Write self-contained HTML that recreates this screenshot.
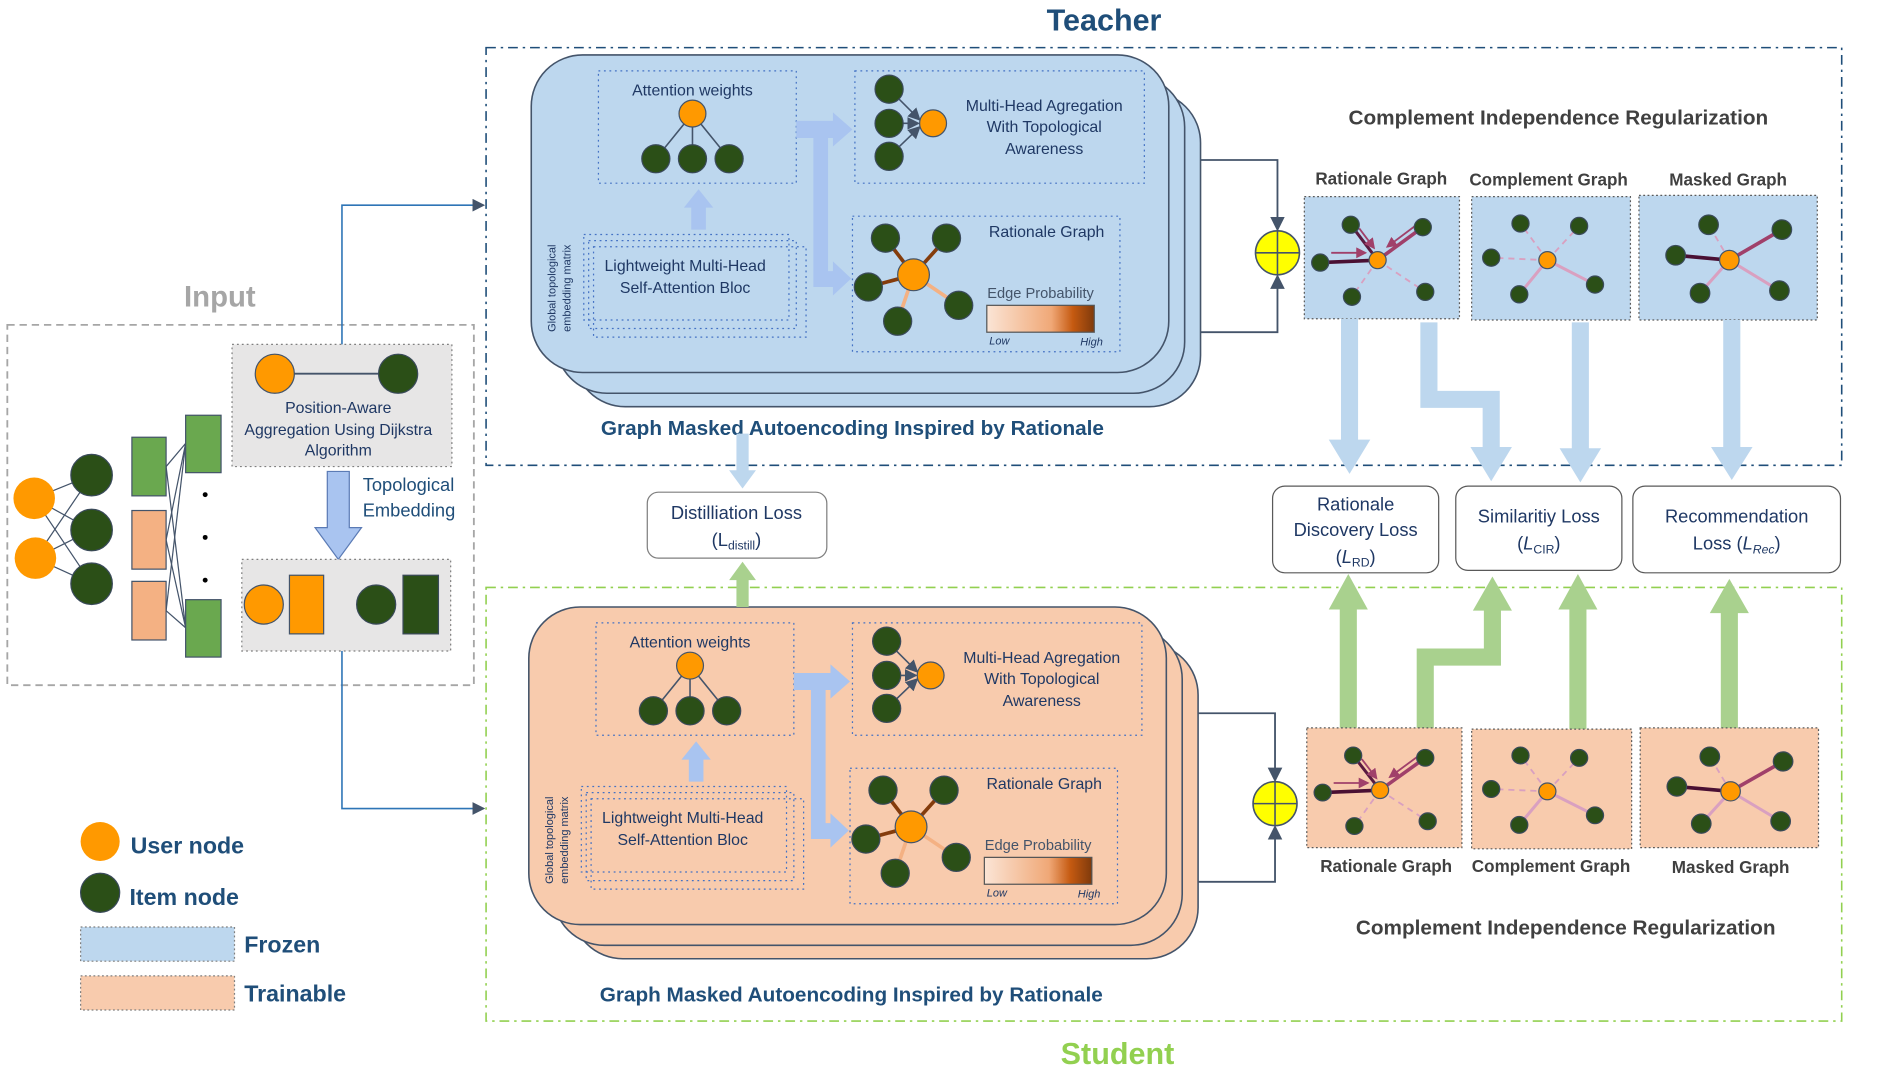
<!DOCTYPE html>
<html><head><meta charset="utf-8"><style>
html,body{margin:0;padding:0;background:#fff;width:1893px;height:1065px;overflow:hidden}
svg{display:block}
text{font-family:"Liberation Sans",sans-serif}
</style></head><body>
<svg width="1893" height="1065" viewBox="0 0 1550 872" preserveAspectRatio="none" xmlns="http://www.w3.org/2000/svg">
<defs>
<linearGradient id="ep" x1="0" x2="1"><stop offset="0" stop-color="#fbe5d6"/><stop offset="0.6" stop-color="#f0a877"/><stop offset="0.8" stop-color="#c55a11"/><stop offset="1" stop-color="#7f3a0c"/></linearGradient>
<marker id="ah" markerWidth="8" markerHeight="8" refX="7" refY="4" orient="auto"><path d="M0,0L8,4L0,8z" fill="#44546a"/></marker>
<marker id="pa" markerWidth="6" markerHeight="6" refX="5" refY="3" orient="auto"><path d="M0,0L6,3L0,6z" fill="#a0406a"/></marker>
<g id="inner" font-size="13" fill="#1f3864">
 <rect x="490" y="58" width="162" height="92" fill="none" stroke="#4472c4" stroke-dasharray="1.5 3"/>
 <text x="567" y="78" text-anchor="middle" fill="#1f3864">Attention weights</text>
 <g stroke="#44546a" stroke-width="1.3"><line x1="567" y1="93" x2="537" y2="130"/><line x1="567" y1="93" x2="567" y2="130"/><line x1="567" y1="93" x2="597" y2="130"/></g>
 <circle cx="567" cy="93" r="11" fill="#ff9900" stroke="#44546a"/>
 <g fill="#2b4f17" stroke="#3a4a5a"><circle cx="537" cy="130" r="11.5"/><circle cx="567" cy="130" r="11.5"/><circle cx="597" cy="130" r="11.5"/></g>
 <path d="M566,188V170H560L572,155L584,170H578V188Z" fill="#a9c4f0"/>
 <rect x="486" y="202" width="174" height="74" fill="none" stroke="#4472c4" stroke-dasharray="1.5 3"/>
 <rect x="482" y="197" width="170" height="72" fill="none" stroke="#4472c4" stroke-dasharray="1.5 3"/>
 <rect x="478" y="192" width="168" height="70" fill="#bdd7ee" fill-opacity="0" stroke="#4472c4" stroke-dasharray="1.5 3"/>
 <text x="561" y="222" text-anchor="middle">Lightweight Multi-Head</text>
 <text x="561" y="240" text-anchor="middle">Self-Attention Bloc</text>
 <g font-size="9" fill="#1f3864"><text transform="translate(455,236) rotate(-90)" text-anchor="middle">Global topological</text><text transform="translate(467,236) rotate(-90)" text-anchor="middle">embedding matrix</text></g>
 <path d="M652,99H682V92L698,106L682,120V113H678V222H682V214L697,228L682,242V235H666V113H652Z" fill="#a9c4f0"/>
 <rect x="700" y="58" width="237" height="92" fill="none" stroke="#4472c4" stroke-dasharray="1.5 3"/>
 <g stroke="#44546a" stroke-width="1.3"><line x1="728" y1="73" x2="753" y2="98" marker-end="url(#ah)"/><line x1="728" y1="101" x2="752" y2="101" marker-end="url(#ah)"/><line x1="728" y1="128" x2="753" y2="104" marker-end="url(#ah)"/></g>
 <g fill="#2b4f17" stroke="#3a4a5a"><circle cx="728" cy="73" r="11.5"/><circle cx="728" cy="101" r="11.5"/><circle cx="728" cy="128" r="11.5"/></g>
 <circle cx="764" cy="101" r="11" fill="#ff9900" stroke="#44546a"/>
 <text x="855" y="91" text-anchor="middle">Multi-Head Agregation</text>
 <text x="855" y="108" text-anchor="middle">With Topological</text>
 <text x="855" y="126" text-anchor="middle">Awareness</text>
 <rect x="698" y="177" width="219" height="111" fill="none" stroke="#4472c4" stroke-dasharray="1.5 3"/>
 <g stroke-width="3"><line x1="748" y1="225" x2="725" y2="195" stroke="#843c0c"/><line x1="748" y1="225" x2="775" y2="195" stroke="#843c0c"/><line x1="748" y1="225" x2="711" y2="235" stroke="#843c0c"/><line x1="748" y1="225" x2="785" y2="250" stroke="#f4b183"/><line x1="748" y1="225" x2="735" y2="263" stroke="#f4b183"/></g>
 <g fill="#2b4f17" stroke="#3a4a5a"><circle cx="725" cy="195" r="11.5"/><circle cx="775" cy="195" r="11.5"/><circle cx="711" cy="235" r="11.5"/><circle cx="785" cy="250" r="11.5"/><circle cx="735" cy="263" r="11.5"/></g>
 <circle cx="748" cy="225" r="13" fill="#ff9900" stroke="#44546a"/>
 <text x="857" y="194" text-anchor="middle">Rationale Graph</text>
 <text x="852" y="244" text-anchor="middle" font-size="12" fill="#44546a">Edge Probability</text>
 <rect x="808" y="250" width="88" height="22" fill="url(#ep)" stroke="#555"/>
 <text x="810" y="282" font-size="9" font-style="italic">Low</text>
 <text x="903" y="283" font-size="9" font-style="italic" text-anchor="end">High</text>
</g>
<g id="gR">
 <line x1="60" y1="52" x2="39" y2="82" stroke="#d9a0c0" stroke-width="1.5" stroke-dasharray="5 4"/>
 <line x1="60" y1="52" x2="99" y2="78" stroke="#d9a0c0" stroke-width="1.5" stroke-dasharray="5 4"/>
 <line x1="60" y1="52" x2="13" y2="54" stroke="#4a1033" stroke-width="3"/>
 <line x1="60" y1="52" x2="38" y2="23" stroke="#5a1a40" stroke-width="2.5"/>
 <line x1="60" y1="52" x2="97" y2="25" stroke="#a0406a" stroke-width="3"/>
 <line x1="22" y1="46" x2="50" y2="46" stroke="#a0406a" stroke-width="1.5" marker-end="url(#pa)"/>
 <line x1="45" y1="26" x2="57" y2="42" stroke="#a0406a" stroke-width="1.5" marker-end="url(#pa)"/>
 <line x1="92" y1="23" x2="68" y2="41" stroke="#a0406a" stroke-width="1.5" marker-end="url(#pa)"/>
 <g fill="#2b4f17" stroke="#3a4a5a"><circle cx="38" cy="23" r="7"/><circle cx="97" cy="25" r="7"/><circle cx="13" cy="54" r="7"/><circle cx="39" cy="82" r="7"/><circle cx="99" cy="78" r="7"/></g>
 <circle cx="60" cy="52" r="7" fill="#ff9900" stroke="#44546a"/>
</g>
<g id="gC">
 <g stroke="#d9a0c0" stroke-width="1.5" stroke-dasharray="5 4"><line x1="62" y1="52" x2="40" y2="22"/><line x1="62" y1="52" x2="88" y2="24"/><line x1="62" y1="52" x2="16" y2="50"/></g>
 <g stroke="#d9a0c0" stroke-width="2.5"><line x1="62" y1="52" x2="39" y2="80"/><line x1="62" y1="52" x2="101" y2="72"/></g>
 <g fill="#2b4f17" stroke="#3a4a5a"><circle cx="40" cy="22" r="7"/><circle cx="88" cy="24" r="7"/><circle cx="16" cy="50" r="7"/><circle cx="39" cy="80" r="7"/><circle cx="101" cy="72" r="7"/></g>
 <circle cx="62" cy="52" r="7" fill="#ff9900" stroke="#44546a"/>
</g>
<g id="gM">
 <line x1="74" y1="53" x2="57" y2="24" stroke="#d9a0c0" stroke-width="1.5" stroke-dasharray="5 4"/>
 <line x1="74" y1="53" x2="30" y2="49" stroke="#4a1033" stroke-width="3"/>
 <line x1="74" y1="53" x2="117" y2="28" stroke="#a0406a" stroke-width="3"/>
 <g stroke="#d9a0c0" stroke-width="2.5"><line x1="74" y1="53" x2="50" y2="80"/><line x1="74" y1="53" x2="115" y2="78"/></g>
 <g fill="#2b4f17" stroke="#3a4a5a"><circle cx="57" cy="24" r="8"/><circle cx="117" cy="28" r="8"/><circle cx="30" cy="49" r="8"/><circle cx="50" cy="80" r="8"/><circle cx="115" cy="78" r="8"/></g>
 <circle cx="74" cy="53" r="8" fill="#ff9900" stroke="#44546a"/>
</g>
</defs>

<!-- Titles -->
<text x="904" y="25" text-anchor="middle" font-size="25" font-weight="bold" fill="#1f4e79">Teacher</text>
<text x="915" y="871" text-anchor="middle" font-size="25" font-weight="bold" fill="#92d050">Student</text>
<rect x="398" y="39" width="1110" height="342" fill="none" stroke="#1f4e79" stroke-width="1.3" stroke-dasharray="8 4 2 4"/>
<rect x="398" y="481" width="1110" height="355" fill="none" stroke="#92d050" stroke-width="1.3" stroke-dasharray="8 4 2 4"/>

<!-- Input -->
<text x="180" y="251" text-anchor="middle" font-size="24" font-weight="bold" fill="#a6a6a6">Input</text>
<rect x="6" y="266" width="382" height="295" fill="none" stroke="#a6a6a6" stroke-width="1.5" stroke-dasharray="6 4"/>
<path d="M280,282V168H396" fill="none" stroke="#2e75b6" stroke-width="1.3" marker-end="url(#ah)"/>
<path d="M280,533V662H396" fill="none" stroke="#2e75b6" stroke-width="1.3" marker-end="url(#ah)"/>
<rect x="190" y="282" width="180" height="100" fill="#e7e6e6" stroke="#7f7f7f" stroke-dasharray="1.5 2.5"/>
<line x1="225" y1="306" x2="326" y2="306" stroke="#44546a" stroke-width="1.5"/>
<circle cx="225" cy="306" r="16" fill="#ff9900" stroke="#44546a"/>
<circle cx="326" cy="306" r="16" fill="#2b4f17" stroke="#3a4a5a"/>
<g font-size="13" fill="#1f3864" text-anchor="middle"><text x="277" y="338">Position-Aware</text><text x="277" y="356">Aggregation Using Dijkstra</text><text x="277" y="373">Algorithm</text></g>
<path d="M268,386H286V432H296L277,458L258,432H268Z" fill="#a9c4f0" stroke="#5b7bb5"/>
<g font-size="15" fill="#1f4e79"><text x="297" y="402">Topological</text><text x="297" y="423">Embedding</text></g>
<rect x="198" y="458" width="171" height="75" fill="#e7e6e6" stroke="#7f7f7f" stroke-dasharray="1.5 2.5"/>
<circle cx="216" cy="495" r="16" fill="#ff9900" stroke="#44546a"/>
<rect x="237" y="471" width="28" height="48" fill="#ff9900" stroke="#44546a"/>
<circle cx="308" cy="495" r="16" fill="#2b4f17" stroke="#3a4a5a"/>
<rect x="330" y="471" width="29" height="48" fill="#2b4f17" stroke="#3a4a5a"/>
<g stroke="#44546a" stroke-width="1"><line x1="28" y1="408" x2="75" y2="389"/><line x1="28" y1="408" x2="75" y2="434"/><line x1="28" y1="408" x2="75" y2="478"/><line x1="29" y1="457" x2="75" y2="389"/><line x1="29" y1="457" x2="75" y2="434"/><line x1="29" y1="457" x2="75" y2="478"/>
<line x1="136" y1="382" x2="152" y2="363"/><line x1="136" y1="382" x2="152" y2="514"/><line x1="136" y1="442" x2="152" y2="363"/><line x1="136" y1="442" x2="152" y2="514"/><line x1="136" y1="500" x2="152" y2="363"/><line x1="136" y1="500" x2="152" y2="514"/></g>
<g fill="#ff9900"><circle cx="28" cy="408" r="17"/><circle cx="29" cy="457" r="17"/></g>
<g fill="#2b4f17" stroke="#3a4a5a"><circle cx="75" cy="389" r="17"/><circle cx="75" cy="434" r="17"/><circle cx="75" cy="478" r="17"/></g>
<g stroke="#44546a"><rect x="108" y="358" width="28" height="48" fill="#6aa84f"/><rect x="108" y="418" width="28" height="48" fill="#f4b183"/><rect x="108" y="476" width="28" height="48" fill="#f4b183"/><rect x="152" y="340" width="29" height="47" fill="#6aa84f"/><rect x="152" y="491" width="29" height="47" fill="#6aa84f"/></g>
<g fill="#000"><circle cx="168" cy="405" r="2"/><circle cx="168" cy="440" r="2"/><circle cx="168" cy="475" r="2"/></g>

<!-- Legend -->
<circle cx="82" cy="689" r="16" fill="#ff9900"/>
<circle cx="82" cy="731" r="16" fill="#2b4f17" stroke="#3a4a5a"/>
<rect x="66" y="759" width="126" height="28" fill="#bdd7ee" stroke="#7f7f7f" stroke-dasharray="1.5 2"/>
<rect x="66" y="799" width="126" height="28" fill="#f8cbad" stroke="#7f7f7f" stroke-dasharray="1.5 2"/>
<g font-size="19" font-weight="bold" fill="#1f4e79"><text x="107" y="699">User node</text><text x="106" y="741">Item node</text><text x="200" y="780">Frozen</text><text x="200" y="820">Trainable</text></g>

<!-- Teacher stack -->
<g fill="#bdd7ee" stroke="#44546a" stroke-width="1.3">
<rect x="470" y="75" width="513" height="258" rx="42"/>
<rect x="455" y="62" width="515" height="260" rx="42"/>
<rect x="435" y="45" width="522" height="260" rx="42"/>
</g>
<use href="#inner"/>
<text x="698" y="356" text-anchor="middle" font-size="17" font-weight="bold" fill="#1f4e79">Graph Masked Autoencoding Inspired by Rationale</text>

<!-- Student stack -->
<g fill="#f8cbad" stroke="#44546a" stroke-width="1.3">
<rect x="468" y="527" width="513" height="258" rx="42"/>
<rect x="453" y="514" width="515" height="260" rx="42"/>
<rect x="433" y="497" width="522" height="260" rx="42"/>
</g>
<use href="#inner" transform="translate(-2,452)"/>
<text x="697" y="820" text-anchor="middle" font-size="17" font-weight="bold" fill="#1f4e79">Graph Masked Autoencoding Inspired by Rationale</text>

<!-- Distillation -->
<path d="M603,355H613V385H619L608,400L597,385H603Z" fill="#bdd7ee"/>
<path d="M603,497H613V475H619L608,460L597,475H603Z" fill="#a9d18e"/>
<rect x="530" y="403" width="147" height="54" rx="9" fill="#fff" stroke="#7f7f7f"/>
<text x="603" y="425" text-anchor="middle" font-size="15" fill="#1f3864">Distilliation Loss</text>
<text x="603" y="447" text-anchor="middle" font-size="15" fill="#1f3864">(L<tspan font-size="10" dy="3">distill</tspan><tspan dy="-3">)</tspan></text>

<!-- Teacher connectors -->
<g fill="none" stroke="#44546a" stroke-width="1.5">
<path d="M983,131H1046V188" marker-end="url(#ah)"/><path d="M983,272H1046V226" marker-end="url(#ah)"/>
<path d="M981,584H1044V639" marker-end="url(#ah)"/><path d="M981,722H1044V677" marker-end="url(#ah)"/>
</g>
<g fill="#ffff00" stroke="#44546a" stroke-width="1.3"><ellipse cx="1046" cy="207" rx="18" ry="18"/><ellipse cx="1044" cy="658" rx="18" ry="18"/></g>
<g stroke="#44546a" stroke-width="1.3"><line x1="1028" y1="207" x2="1064" y2="207"/><line x1="1046" y1="189" x2="1046" y2="225"/><line x1="1026" y1="658" x2="1062" y2="658"/><line x1="1044" y1="640" x2="1044" y2="676"/></g>

<g font-size="17" font-weight="bold" fill="#404040" text-anchor="middle"><text x="1276" y="102">Complement Independence Regularization</text><text x="1282" y="765">Complement Independence Regularization</text></g>

<!-- Teacher panels -->
<g fill="#bdd7ee" stroke="#595959" stroke-dasharray="1.5 2">
<rect x="1068" y="161" width="127" height="100"/><rect x="1205" y="161" width="130" height="101"/><rect x="1342" y="160" width="146" height="102"/>
</g>
<use href="#gR" transform="translate(1068,161)"/><use href="#gC" transform="translate(1205,161)"/><use href="#gM" transform="translate(1342,160)"/>
<g font-size="14" font-weight="bold" fill="#404040" text-anchor="middle"><text x="1131" y="151">Rationale Graph</text><text x="1268" y="152">Complement Graph</text><text x="1415" y="152">Masked Graph</text></g>

<!-- Teacher arrows -->
<g fill="#bdd7ee">
<path d="M1098,261H1112V360H1122L1105,388L1088,360H1098Z"/>
<path d="M1163,264H1177V320H1228V366H1238L1221,394L1204,366H1214V334H1163Z"/>
<path d="M1287,264H1301V367H1311L1294,395L1277,367H1287Z"/>
<path d="M1411,262H1425V366H1435L1418,393L1401,366H1411Z"/>
</g>

<!-- Losses -->
<g fill="#fff" stroke="#595959"><rect x="1042" y="398" width="136" height="71" rx="10"/><rect x="1192" y="398" width="136" height="69" rx="10"/><rect x="1337" y="398" width="170" height="71" rx="10"/></g>
<g font-size="15" fill="#1f3864" text-anchor="middle">
<text x="1110" y="418">Rationale</text><text x="1110" y="439">Discovery Loss</text><text x="1110" y="461">(<tspan font-style="italic">L</tspan><tspan font-size="10" dy="3">RD</tspan><tspan dy="-3">)</tspan></text>
<text x="1260" y="428">Similaritiy Loss</text><text x="1260" y="450">(<tspan font-style="italic">L</tspan><tspan font-size="10" dy="3">CIR</tspan><tspan dy="-3">)</tspan></text>
<text x="1422" y="428">Recommendation</text><text x="1422" y="450">Loss (<tspan font-style="italic">L</tspan><tspan font-size="10" font-style="italic" dy="3">Rec</tspan><tspan dy="-3">)</tspan></text>
</g>

<!-- Student arrows -->
<g fill="#a9d18e">
<path d="M1097,596H1111V499H1120L1104,470L1088,499H1097Z"/>
<path d="M1160,598H1174V545H1229V500H1238L1222,472L1206,500H1215V531H1160Z"/>
<path d="M1285,597H1299V499H1308L1292,470L1276,499H1285Z"/>
<path d="M1409,597H1423V502H1432L1416,474L1400,502H1409Z"/>
</g>

<!-- Student panels -->
<g fill="#f8cbad" stroke="#595959" stroke-dasharray="1.5 2">
<rect x="1070" y="596" width="127" height="98"/><rect x="1205" y="597" width="131" height="98"/><rect x="1343" y="596" width="146" height="98"/>
</g>
<use href="#gR" transform="translate(1070,596) scale(1,0.98)"/><use href="#gC" transform="translate(1205,597) scale(1,0.98)"/><use href="#gM" transform="translate(1343,596) scale(1,0.98)"/>
<g font-size="14" font-weight="bold" fill="#404040" text-anchor="middle"><text x="1135" y="714">Rationale Graph</text><text x="1270" y="714">Complement Graph</text><text x="1417" y="715">Masked Graph</text></g>
</svg>
</body></html>
